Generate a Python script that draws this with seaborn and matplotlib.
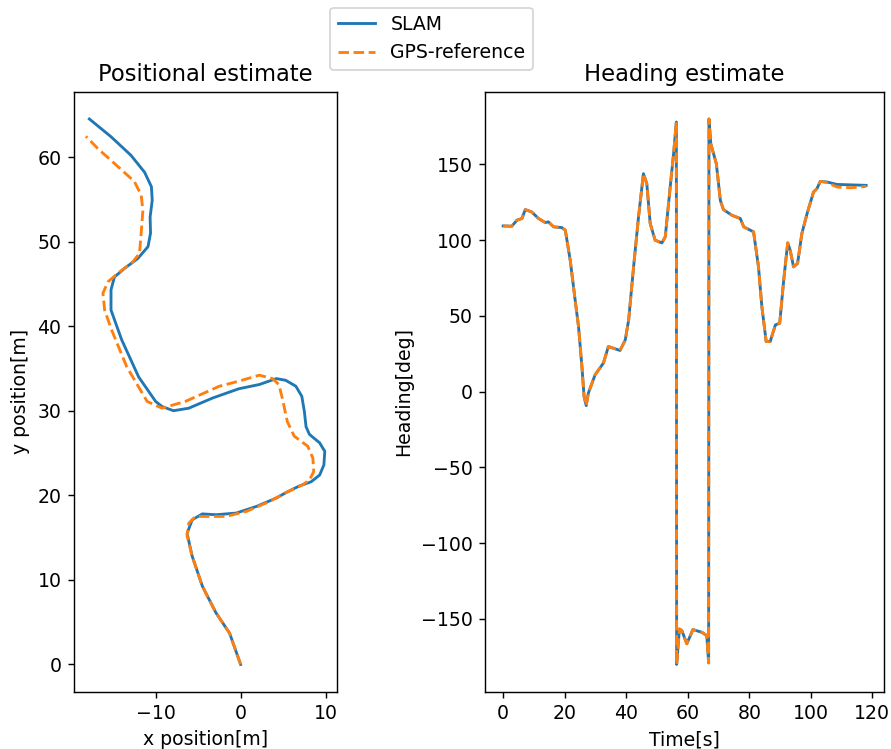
import matplotlib
matplotlib.use("Agg")
import matplotlib.pyplot as plt
import seaborn as sns
import pandas as pd

# Trajectory in the local plane [m]
slam_x = [0.0, -1.3, -2.9, -4.5, -5.7, -6.3, -5.7, -4.5, -2.9, -0.5, 1.9, 4.25, 5.3,
          6.9, 8.3, 9.3, 9.8, 9.9, 9.3, 8.1, 7.7, 7.5, 7.2, 6.5, 5.3, 4.2, 2.2, -0.2,
          -3.3, -6.1, -7.9, -9.25, -10.0, -12.0, -14.0, -15.25, -15.25, -14.85, -13.7,
          -12.1, -10.9, -10.6, -10.65, -10.4, -10.5, -11.3, -12.9, -15.25, -17.8]
slam_y = [0.0, 3.7, 6.1, 9.25, 12.8, 15.5, 17.1, 17.8, 17.7, 17.9, 18.7, 19.7, 20.3,
          21.1, 21.6, 22.4, 23.6, 25.2, 26.2, 27.2, 28.1, 29.9, 31.7, 32.9, 33.6, 33.8,
          33.1, 32.6, 31.5, 30.3, 30.0, 30.5, 31.1, 34.0, 38.4, 41.9, 44.3, 45.8, 46.8,
          48.0, 49.4, 51.0, 52.9, 54.9, 56.5, 58.2, 60.2, 62.4, 64.5]

gps_x = [0.0, -1.3, -2.9, -4.5, -5.7, -6.3, -6.1, -5.3, -3.7, -1.7, 0.7, 3.45, 5.3,
         7.3, 8.1, 8.6, 8.5, 7.9, 6.3, 5.5, 4.9, 4.5, 3.75, 2.2, -0.2, -2.5, -6.5,
         -9.25, -11.0, -13.4, -15.2, -16.0, -16.2, -15.6, -14.45, -12.7, -11.9, -11.7,
         -11.5, -11.7, -12.5, -13.7, -15.25, -16.8, -18.2]
gps_y = [0.0, 3.7, 6.1, 9.25, 12.8, 15.2, 16.7, 17.5, 17.5, 17.5, 18.1, 19.3, 20.3,
         21.25, 21.8, 22.8, 24.4, 25.8, 27.0, 28.7, 31.5, 33.1, 33.8, 34.2, 33.5, 32.9,
         31.1, 30.3, 31.1, 35.2, 39.6, 41.9, 43.9, 45.25, 46.25, 47.6, 48.6, 51.0, 53.7,
         55.5, 57.1, 58.2, 59.6, 61.0, 62.45]

# Heading over time
slam_t = [0.0, 2.8, 4.5, 6.1, 7.2, 9.3, 11.5, 13.7, 14.7, 16.4, 19.1, 20.2, 21.8, 23.4,
          24.5, 25.6, 26.3, 27.0, 27.7, 29.9, 32.6, 34.2, 38.0, 39.7, 40.8, 42.4, 44.0,
          45.6, 46.7, 47.8, 49.4, 51.6, 52.7, 54.3, 55.4, 56.3, 56.4, 57.3, 58.1, 59.7,
          61.7, 64.6, 66.2, 66.8, 66.9, 67.5, 69.3, 70.6, 71.6, 74.4, 77.1, 78.2, 81.4,
          83.0, 84.1, 85.5, 86.8, 88.5, 89.9, 91.2, 92.5, 93.3, 94.4, 95.7, 97.1, 98.8,
          100.9, 102.0, 103.1, 105.3, 108.5, 118.0]
slam_heading = [109.4, 109.2, 113.2, 114.3, 120.2, 118.6, 114.3, 111.6, 112.1, 108.8,
                108.3, 106.6, 86.8, 60.5, 43.0, 16.6, -3.1, -9.2, -0.9, 11.2, 18.9,
                29.8, 27.2, 34.2, 47.4, 82.4, 115.3, 143.9, 137.3, 111.0, 100.0, 98.2,
                102.2, 135.1, 157.0, 178.0, -180.0, -156.6, -157.7, -166.4, -157.0,
                -158.8, -161.0, -179.0, 180.0, 163.6, 150.5, 126.3, 120.2, 116.4, 114.3,
                108.8, 105.5, 82.4, 56.1, 33.1, 33.1, 44.1, 45.2, 73.7, 98.2, 93.4, 82.4,
                84.6, 104.4, 117.6, 131.8, 134.0, 138.8, 138.4, 136.8, 136.2]

gps_t = [0.0, 2.8, 4.5, 6.1, 7.2, 9.3, 11.5, 13.7, 14.7, 16.4, 19.1, 20.2, 21.8, 23.4,
         24.5, 25.6, 26.3, 27.0, 27.7, 29.9, 32.6, 34.2, 38.0, 39.7, 40.8, 42.4, 44.0,
         45.6, 46.7, 47.8, 49.4, 51.6, 52.7, 54.3, 55.4, 56.3, 56.4, 57.3, 58.1, 59.7,
         61.7, 64.6, 66.2, 66.8, 66.9, 67.5, 69.3, 70.6, 71.6, 74.4, 77.1, 78.2, 81.4,
         83.0, 84.1, 85.5, 86.8, 88.5, 89.9, 91.2, 92.5, 93.3, 94.4, 95.7, 97.1, 98.8,
         100.9, 102.0, 103.1, 105.3, 108.5, 113.0, 118.0]
gps_heading = [109.4, 109.2, 113.2, 114.3, 120.2, 118.6, 114.3, 111.6, 112.1, 108.8,
               108.3, 106.6, 86.8, 60.5, 43.0, 16.6, -3.1, -9.2, -0.9, 11.2, 18.9,
               29.8, 27.2, 34.2, 47.4, 82.4, 115.3, 143.9, 137.3, 111.0, 100.0, 98.2,
               102.2, 135.1, 157.0, 178.0, -180.0, -156.6, -157.7, -166.4, -157.0,
               -158.8, -161.0, -179.0, 180.0, 163.6, 150.5, 126.3, 120.2, 116.4, 114.3,
               108.8, 105.5, 82.4, 56.1, 33.1, 33.1, 44.1, 45.2, 73.7, 98.2, 93.4, 82.4,
               84.6, 104.4, 117.6, 131.8, 134.0, 138.8, 138.0, 135.1, 134.6, 135.5]

series_labels = ["SLAM", "GPS-reference"]
blue, orange = "#1f77b4", "#ff7f0e"

pos_slam = pd.DataFrame({"x": slam_x, "y": slam_y})
pos_gps = pd.DataFrame({"x": gps_x, "y": gps_y})
hdg_slam = pd.DataFrame({"t": slam_t, "h": slam_heading})
hdg_gps = pd.DataFrame({"t": gps_t, "h": gps_heading})

plt.rcParams["font.size"] = 10.6
plt.rcParams["lines.linewidth"] = 1.6

W, H, DPI = 891, 749, 128
fig = plt.figure(figsize=(W / DPI, H / DPI), dpi=DPI)
ax1 = fig.add_axes([74 / W, (H - 691.7) / H, (336.7 - 74) / W, 600 / H])
ax2 = fig.add_axes([485 / W, (H - 691.7) / H, (884.3 - 485) / W, 600 / H])

sns.lineplot(data=pos_slam, x="x", y="y", sort=False, estimator=None, ax=ax1,
             color=blue, label=series_labels[0], legend=False)
sns.lineplot(data=pos_gps, x="x", y="y", sort=False, estimator=None, ax=ax1,
             color=orange, linestyle="--", label=series_labels[1], legend=False)
ax1.set_title("Positional estimate")
ax1.set_xlabel("x position[m]")
ax1.set_ylabel("y position[m]")

sns.lineplot(data=hdg_slam, x="t", y="h", sort=False, estimator=None, ax=ax2,
             color=blue, legend=False)
sns.lineplot(data=hdg_gps, x="t", y="h", sort=False, estimator=None, ax=ax2,
             color=orange, linestyle="--", legend=False)
ax2.set_title("Heading estimate")
ax2.set_xlabel("Time[s]")
ax2.set_ylabel("Heading[deg]")

handles, labels = ax1.get_legend_handles_labels()
fig.legend(handles, labels, loc="upper center", bbox_to_anchor=(0.4843, 1.0),
           borderaxespad=0.4)

fig.savefig("out.png", dpi=DPI)
